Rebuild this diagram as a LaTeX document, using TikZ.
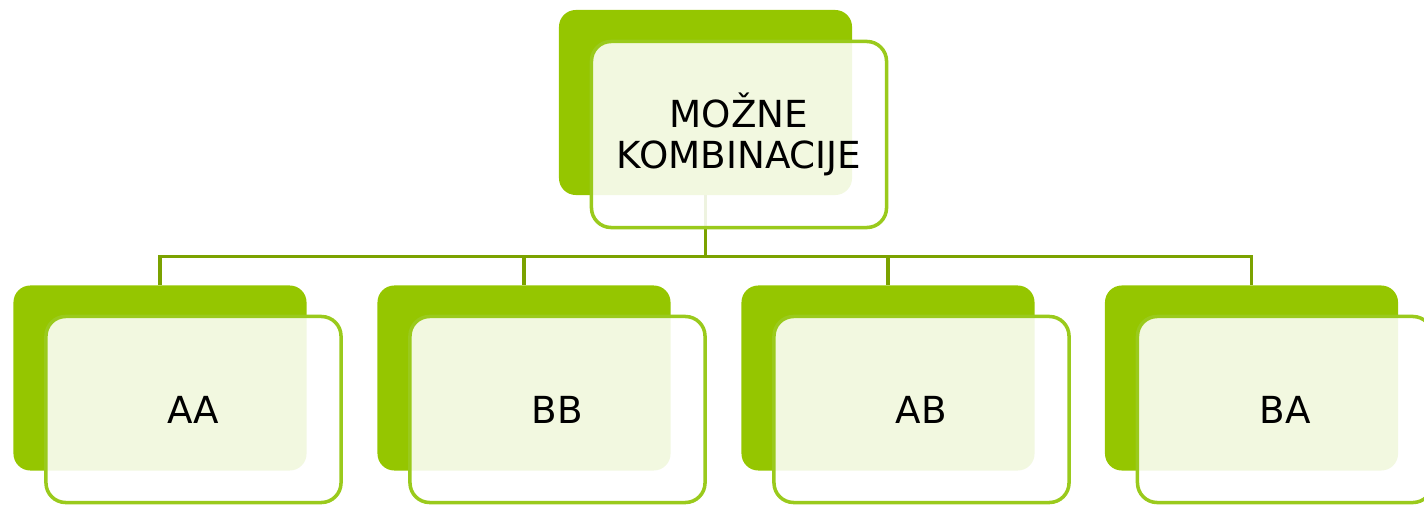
\documentclass[tikz,border=0pt]{standalone}
\usepackage{fontspec}
\setmainfont{DejaVu Sans}
\definecolor{leafgreen}{HTML}{95C600}
\definecolor{rimgreen}{HTML}{9ACA1C}
\definecolor{linkgreen}{HTML}{7BA200}

\begin{document}
\begin{tikzpicture}[x=0.025cm,y=-0.025cm,
    back/.style={fill=leafgreen, rounded corners=12pt, minimum width=7.325cm, minimum height=4.625cm, inner sep=0pt},
    front/.style={draw=rimgreen, line width=2.5pt, fill=white, fill opacity=0.88, text opacity=1,
      rounded corners=14pt, minimum width=7.375cm, minimum height=4.65cm, inner sep=0pt,
      align=center, font=\fontsize{26.5}{29}\selectfont},
    link/.style={draw=linkgreen, line width=2.4pt}]
    \useasboundingbox (0,0) rectangle (1424,505);

    % Back boxes
    \node[back] (back-top) at (705.5,102.5) {};
    \foreach \n/\x in {aa/160, bb/524, ab/888, ba/1251.5}
      \node[back] (back-\n) at (\x,378) {};

    % Connectors
    \draw[link] (back-top.south) -- ++(0,61) coordinate (hub);
    \foreach \n in {aa, bb, ab, ba}
      \draw[link] (hub) -| (back-\n.north);

    % Front boxes
    \node[front] (top) at ([shift={(33.5,32)}]back-top.center) {MOŽNE\\KOMBINACIJE};
    \foreach \n/\t in {aa/AA, bb/BB, ab/AB, ba/BA}
      \node[front] (\n) at ([shift={(33.5,31.5)}]back-\n.center) {\t};

\end{tikzpicture}
\end{document}
